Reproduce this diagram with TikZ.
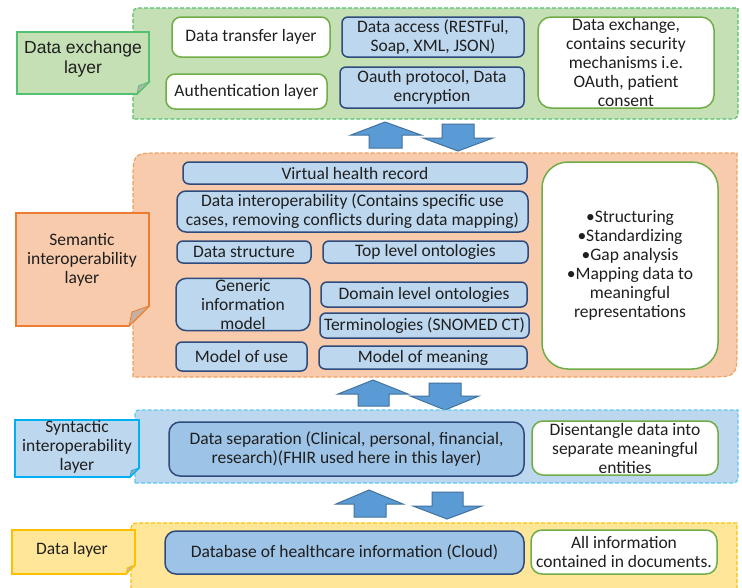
\documentclass[tikz,border=0pt]{standalone}
\usepackage{fontspec}
\setmainfont{Carlito}
\newfontfamily\arialfont{Liberation Sans}
\definecolor{txt}{HTML}{1F1F1F}
\definecolor{gfill}{HTML}{C5E0B4}
\definecolor{gdash}{HTML}{55C070}
\definecolor{gline}{HTML}{70AD47}
\definecolor{ofill}{HTML}{F8CBAD}
\definecolor{odash}{HTML}{F0A060}
\definecolor{oline}{HTML}{ED7D31}
\definecolor{bfill}{HTML}{BDD7EE}
\definecolor{bdash}{HTML}{5BC8F5}
\definecolor{bline}{HTML}{00B0F0}
\definecolor{yfill}{HTML}{FFE699}
\definecolor{yline}{HTML}{FFC000}
\definecolor{boxblue}{HTML}{BDD7EE}
\definecolor{boxdark}{HTML}{9DC3E6}
\definecolor{navy}{HTML}{2F4B7C}
\definecolor{arrfill}{HTML}{5B9BD5}
\definecolor{arrline}{HTML}{41719C}
\tikzset{
  every node/.style={text=txt, font=\fontsize{17.5}{19}\selectfont, inner sep=1pt, outer sep=0pt, align=center},
  bluebox/.style={draw=navy, fill=boxblue, line width=1.5pt, rounded corners=6pt},
  darkbox/.style={draw=navy, fill=boxdark, line width=1.5pt, rounded corners=11pt},
  whitebox/.style={draw=gline, fill=white, line width=1.5pt, rounded corners=9pt},
  bigwhite/.style={draw=gline, fill=white, line width=1.5pt, rounded corners=26pt},
  layerline/.style={dashed, dash pattern=on 4pt off 2pt, line width=1.2pt},
  blockarrow/.style={fill=arrfill, draw=arrline, line width=1pt, line join=miter},
}
% box node: name, style, x1, y1, x2, y2, text
\newcommand{\bxn}[7]{\node[#2, minimum width={(#5-#3)*1pt}, minimum height={(#6-#4)*1pt}] (#1) at ({(#3+#5)/2},{(#4+#6)/2}) {#7};}
% layer region: style, x1,y1,x2,y2, rTL, rBR
\newcommand{\layerreg}[7]{\path[#1] (#2,#5) -- (#2,{#3+#6}) .. controls (#2,#3) .. ({#2+#6},#3) -- (#4,#3) -- (#4,{#5-#7}) .. controls (#4,#5) .. ({#4-#7},#5) -- cycle;}
% label note: name, fill, draw, foldcolor, x1,y1,x2,y2, cut
\newcommand{\notelabel}[9]{%
  \path[fill=#2, draw=#3, line width=1.6pt, line join=miter] (#5,#6) -- (#7,#6) -- (#7,{#8-#9}) -- ({#7-#9},#8) -- (#5,#8) -- cycle;
  \path[fill=#4, draw=#3, line width=0.8pt] (#7,{#8-#9}) -- ({#7-#9},#8) -- ({#7-0.85*#9},{#8-0.7*#9}) -- cycle;
  \coordinate (#1) at ({(#5+#7)/2},{(#6+#8)/2});}
% block arrows: tipx, tipy, headL, headR, head base y, shaftL, shaftR, shaft end y
\newcommand{\uparr}[8]{\path[blockarrow] (#1,#2) -- (#4,#5) -- (#7,#5) -- (#7,#8) -- (#6,#8) -- (#6,#5) -- (#3,#5) -- cycle;}
\newcommand{\downarr}[8]{\path[blockarrow] (#1,#2) -- (#4,#5) -- (#7,#5) -- (#7,#8) -- (#6,#8) -- (#6,#5) -- (#3,#5) -- cycle;}
\begin{document}
\begin{tikzpicture}[x=1pt,y=-1pt]
\useasboundingbox (0,0) rectangle (742,587);
\fill[white] (0,0) rectangle (742,587);

% ---------- Data exchange layer ----------
\layerreg{fill=gfill, draw=gdash, layerline}{133}{8}{738}{119}{10}{12}
\notelabel{lde}{gfill}{gdash}{gfill!60!black!60}{17}{32}{149}{94}{12}
\node[font=\arialfont\fontsize{17.5}{20}\selectfont] (tde) at (83,59) {Data exchange\\layer};
\bxn{dtl}{whitebox}{172}{17}{330}{57}{Data transfer layer}
\bxn{aul}{whitebox}{166}{74}{327}{109}{Authentication layer}
\bxn{dac}{bluebox}{342}{17}{524}{57}{Data access (RESTFul,\\Soap, XML, JSON)}
\bxn{oap}{bluebox}{340}{67}{524}{108}{Oauth protocol, Data\\encryption}
\bxn{dex}{whitebox, rounded corners=13pt}{538}{17}{714}{108}{Data exchange,\\contains security\\mechanisms i.e.\\OAuth, patient\\consent}

% arrows 1
\uparr{385}{122}{351}{421}{135}{369}{402}{148}
\downarr{458}{151}{423}{493}{138}{442}{474}{124}

% ---------- Semantic layer ----------
\layerreg{fill=ofill, draw=odash, layerline}{133}{153}{737}{377}{28}{30}
\notelabel{lsem}{ofill}{oline}{ofill!70!black!70}{16}{213}{149}{326}{20}
\node (tsem) at (82,260) {Semantic\\interoperability\\layer};
\bxn{vhr}{bluebox}{183}{162}{527}{184}{Virtual health record}
\bxn{dint}{bluebox, rounded corners=9pt}{177}{191}{528}{232}{Data interoperability (Contains specific use\\cases, removing conflicts during data mapping)}
\bxn{dst}{bluebox}{177}{241}{311}{263}{Data structure}
\bxn{tlo}{bluebox}{323}{241}{528}{263}{Top level ontologies}
\bxn{gim}{bluebox, rounded corners=10pt}{176}{280}{310}{329}{Generic\\information\\model}
\bxn{dlo}{bluebox}{321}{282}{527}{307}{Domain level ontologies}
\bxn{term}{bluebox}{320}{313}{529}{338}{Terminologies (SNOMED CT)}
\bxn{mou}{bluebox}{176}{342}{307}{371}{Model of use}
\bxn{mom}{bluebox}{319}{346}{527}{369}{Model of meaning}
\bxn{bul}{bigwhite}{542}{162}{718}{369}{\textbullet Structuring\\\textbullet Standardizing\\\textbullet Gap analysis\\\textbullet Mapping data to\\meaningful\\representations}

% arrows 2
\uparr{373}{380}{338}{408}{394}{358}{389}{406}
\downarr{445}{410}{410}{479}{396}{429}{461}{383}

% ---------- Syntactic layer ----------
\layerreg{fill=bfill, draw=bdash, layerline}{135}{410}{738}{483}{8}{10}
\notelabel{lsyn}{bfill}{bline}{bfill!60!black!70}{15}{420}{139}{477}{9}
\node (tsyn) at (77,447) {Syntactic\\interoperability\\layer};
\bxn{dsep}{darkbox}{169}{422}{524}{476}{Data separation (Clinical, personal, financial,\\research)(FHIR used here in this layer)}
\bxn{dis}{whitebox, rounded corners=11pt}{532}{421}{718}{475}{Disentangle data into\\separate meaningful\\entities}

% arrows 3
\uparr{369}{490}{336}{403}{504}{354}{386}{517}
\downarr{447}{519}{413}{482}{506}{432}{463}{492}

% ---------- Data layer ----------
\layerreg{fill=yfill, draw=yline, layerline}{131}{523}{737}{595}{10}{0}
\notelabel{ldat}{yfill}{yline}{yfill!60!black!60}{12}{530}{135}{574}{9}
\node (tdat) at (72,550) {Data layer};
\bxn{dbh}{darkbox}{165}{531}{524}{574}{Database of healthcare information (Cloud)}
\bxn{ainf}{whitebox, rounded corners=11pt}{531}{530}{717}{574}{All information\\contained in documents.}
\end{tikzpicture}
\end{document}
